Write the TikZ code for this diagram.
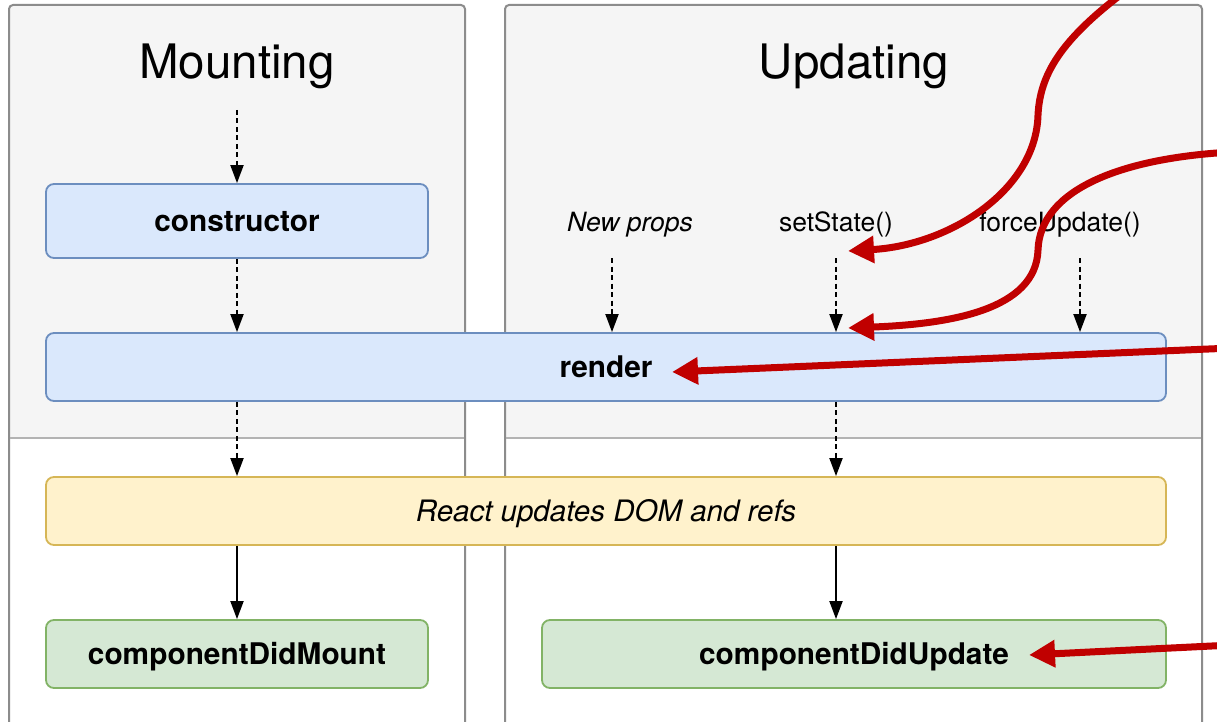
\documentclass[tikz,border=0pt]{standalone}
\usepackage{fontspec}
\setmainfont{TeX Gyre Heros}
\usetikzlibrary{arrows.meta}
\definecolor{panelfill}{HTML}{F5F5F5}
\definecolor{panelline}{HTML}{8C8C8C}
\definecolor{divline}{HTML}{B3B3B3}
\definecolor{bluefill}{HTML}{DAE8FC}
\definecolor{blueline}{HTML}{6C8EBF}
\definecolor{yelfill}{HTML}{FFF2CC}
\definecolor{yelline}{HTML}{D6B656}
\definecolor{grnfill}{HTML}{D5E8D4}
\definecolor{grnline}{HTML}{82B366}
\definecolor{redarrow}{HTML}{C00000}
\begin{document}
\begin{tikzpicture}[x=1pt,y=-1pt,
  panel/.style={draw=panelline, line width=2pt, rounded corners=4pt},
  divider/.style={draw=divline, line width=2pt},
  box/.style={draw, line width=1.8pt, rounded corners=8pt, inner sep=0pt, text height=27pt, text depth=6pt},
  bluebox/.style={box, fill=bluefill, draw=blueline, font=\fontsize{29.8}{34}\selectfont\bfseries},
  yelbox/.style={box, fill=yelfill, draw=yelline, font=\fontsize{29.5}{34}\selectfont\itshape},
  grnbox/.style={box, fill=grnfill, draw=grnline, font=\fontsize{29.8}{34}\selectfont\bfseries},
  titletext/.style={font=\fontsize{47.5}{56}\selectfont, inner sep=0pt, anchor=base},
  lbltext/.style={font=\fontsize{26.5}{31}\selectfont, inner sep=0pt, anchor=base},
  dasharrow/.style={draw=black, line width=1.9pt, dash pattern=on 5pt off 3.5pt, -{Triangle[length=18pt,width=13pt]}},
  solidarrow/.style={draw=black, line width=1.9pt, -{Triangle[length=18pt,width=13pt]}},
  redarr/.style={draw=redarrow, line width=7pt, -{Triangle[length=26pt,width=26pt]}}
]
\useasboundingbox (0,0) rectangle (1217,722);
\clip (0,0) rectangle (1217,722);
\fill[white] (0,0) rectangle (1217,722);

% panels
\fill[panelfill, rounded corners=4pt] (9,438) -- (9,5) -- (465,5) -- (465,438) -- cycle;
\fill[panelfill, rounded corners=4pt] (505,438) -- (505,5) -- (1202,5) -- (1202,438) -- cycle;
\draw[panel] (9,760) -- (9,5) -- (465,5) -- (465,760);
\draw[panel] (505,760) -- (505,5) -- (1202,5) -- (1202,760);
\draw[divider] (10,438) -- (464,438);
\draw[divider] (506,438) -- (1201,438);

% titles
\node[titletext] (tmount) at (237,79) {Mounting};
\node[titletext] (tupdate) at (854,79) {Updating};

% labels
\node[lbltext] (lnp) at (630,231) {\itshape New props};
\node[lbltext] (lss) at (836,231) {setState()};
\node[lbltext] (lfu) at (1060,231) {forceUpdate()};

% boxes
\node[bluebox, minimum width=382pt, minimum height=74pt] (ctor) at (237,221) {constructor};
\node[bluebox, minimum width=1120pt, minimum height=68pt] (render) at (606,367) {render};
\node[yelbox, minimum width=1120pt, minimum height=68pt] (react) at (606,511) {React updates DOM and refs};
\node[grnbox, minimum width=382pt, minimum height=68pt] (cdm) at (237,654) {componentDidMount};
\node[grnbox, minimum width=624pt, minimum height=68pt] (cdu) at (854,654) {componentDidUpdate};

% black arrows, mounting
\coordinate (mtop) at (237,110);
\draw[dasharrow] (mtop) -- (ctor.north);
\draw[dasharrow] (ctor.south) -- (ctor.south |- render.north);
\draw[dasharrow] (render.south -| ctor.south) -- (react.north -| ctor.south);
\draw[solidarrow] (react.south -| cdm.north) -- (cdm.north);

% black arrows, updating
\coordinate (unp) at (612,258);
\coordinate (uss) at (836,258);
\coordinate (ufu) at (1080,258);
\draw[dasharrow] (unp) -- (unp |- render.north);
\draw[dasharrow] (uss) -- (uss |- render.north);
\draw[dasharrow] (ufu) -- (ufu |- render.north);
\draw[dasharrow] (render.south -| uss) -- (react.north -| uss);
\draw[solidarrow] (react.south -| uss) -- (cdu.north -| uss);

% red arrows
\coordinate (r1s) at (1127,-10);
\coordinate (r1e) at (848,251);
\draw[redarr] (r1s) .. controls (1060,40) and (1040,75) .. (1038,115) .. controls (1036,190) and (950,245) .. (r1e);
\coordinate (r2s) at (1232,152);
\coordinate (r2e) at (848,328);
\draw[redarr] (r2s) .. controls (1120,158) and (1040,190) .. (1038,250) .. controls (1036,310) and (950,324) .. (r2e);
\coordinate (r3s) at (1232,348);
\coordinate (r3e) at (672,372);
\draw[redarr] (r3s) -- (r3e);
\coordinate (r4s) at (1232,645);
\coordinate (r4e) at (1029,655);
\draw[redarr] (r4s) -- (r4e);
\end{tikzpicture}
\end{document}
